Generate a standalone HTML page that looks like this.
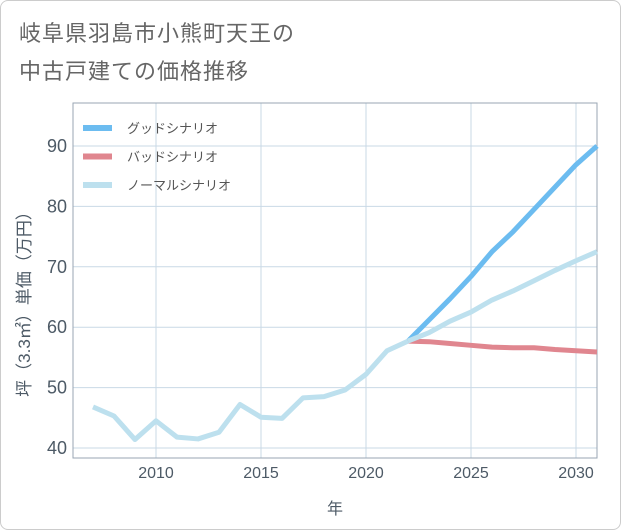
<!DOCTYPE html>
<html><head><meta charset="utf-8"><style>
body{margin:0;background:#fff;font-family:"Liberation Sans","Noto Sans CJK JP",sans-serif;}
#wrap{position:relative;width:619px;height:528px;border:1px solid #ccc;border-radius:8px;overflow:hidden;background:#fff}
.t{position:absolute;left:18px;font-size:22px;color:#666;letter-spacing:1px}
</style></head><body>
<div id="wrap">
<div class="t" style="top:15px">岐阜県羽島市小熊町天王の</div>
<div class="t" style="top:53px">中古戸建ての価格推移</div>
<svg id="c" width="621" height="530" style="position:absolute;left:-1px;top:-1px"></svg>
</div>
<script>
const histYears=[2007,2008,2009,2010,2011,2012,2013,2014,2015,2016,2017,2018,2019,2020,2021,2022];
const histVals=[46.8,45.3,41.4,44.5,41.8,41.5,42.6,47.2,45.1,44.9,48.3,48.5,49.6,52.2,56.1,57.7];
const futYears=[2022,2023,2024,2025,2026,2027,2028,2029,2030,2031];
const goodVals=[57.7,61.2,64.7,68.4,72.5,75.8,79.5,83.2,86.9,90.0];
const badVals=[57.7,57.6,57.3,57.0,56.7,56.6,56.6,56.3,56.1,55.9];
const normalVals=[57.7,59.1,61.0,62.5,64.5,66.0,67.7,69.4,71.0,72.5];
const xTicks=[2010,2015,2020,2025,2030];
const yTicks=[40,50,60,70,80,90];
const NS="http://www.w3.org/2000/svg";
const L=73,R=597,T=103,B=458;
const x=y=>156+(y-2010)*21;
const yv=v=>448-(v-40)*6.04;
const svg=document.getElementById('c');
function el(tag,attrs,parent){const e=document.createElementNS(NS,tag);for(const k in attrs)e.setAttribute(k,attrs[k]);(parent||svg).appendChild(e);return e;}
const grid=el('g',{});


yTicks.forEach(v=>{
 const g=el('line',{x1:L,x2:R,y1:yv(v),y2:yv(v),stroke:'#c9d9e6','stroke-width':1},grid);
 
 
 const t=el('text',{x:L-6,y:yv(v)+6,'text-anchor':'end','font-size':18,fill:'#4d5a66'});
 t.textContent=v;
 
 
});
xTicks.forEach(v=>{
 const g=el('line',{x1:x(v),x2:x(v),y1:T,y2:B,stroke:'#c9d9e6','stroke-width':1},grid);
 
 
 const t=el('text',{x:x(v),y:B+20,'text-anchor':'middle','font-size':16,fill:'#4d5a66'});
 t.textContent=v;
 
 
});
const fr=el('rect',{x:L,y:T,width:R-L,height:B-T,fill:'none',stroke:'#99a6b3','stroke-width':1});


function line(xs,vs,color,name){
 const p=el('polyline',{points:xs.map((a,i)=>x(a)+','+yv(vs[i])).join(' '),fill:'none',stroke:color,'stroke-width':5,'stroke-linejoin':'round'});
 
 
}
line(futYears,badVals,'#e0868f','bad-scenario-line');
line(futYears,goodVals,'#6cbcf0','good-scenario-line');
line(futYears,normalVals,'#bde0ee','normal-scenario-line');
line(histYears,histVals,'#bde0ee','historical-line');
const leg=[['グッドシナリオ','#6cbcf0'],['バッドシナリオ','#e0868f'],['ノーマルシナリオ','#bde0ee']];
leg.forEach((d,i)=>{
 const yy=128+i*28.5;
 const s=el('line',{x1:83,x2:112,y1:yy,y2:yy,stroke:d[1],'stroke-width':6});
 
 
 const t=el('text',{x:127,y:yy+5,'font-size':13,fill:'#555'});
 t.textContent=d[0];
 
 
});
const xt=el('text',{x:335,y:514,'text-anchor':'middle','font-size':16,fill:'#4d5a66'});
xt.textContent='年';


const yt=el('text',{x:0,y:0,'text-anchor':'middle','font-size':17,fill:'#4d5a66',transform:'translate(30,300) rotate(-90)'});
yt.textContent='坪（3.3㎡）単価（万円）';


</script>
</body></html>
